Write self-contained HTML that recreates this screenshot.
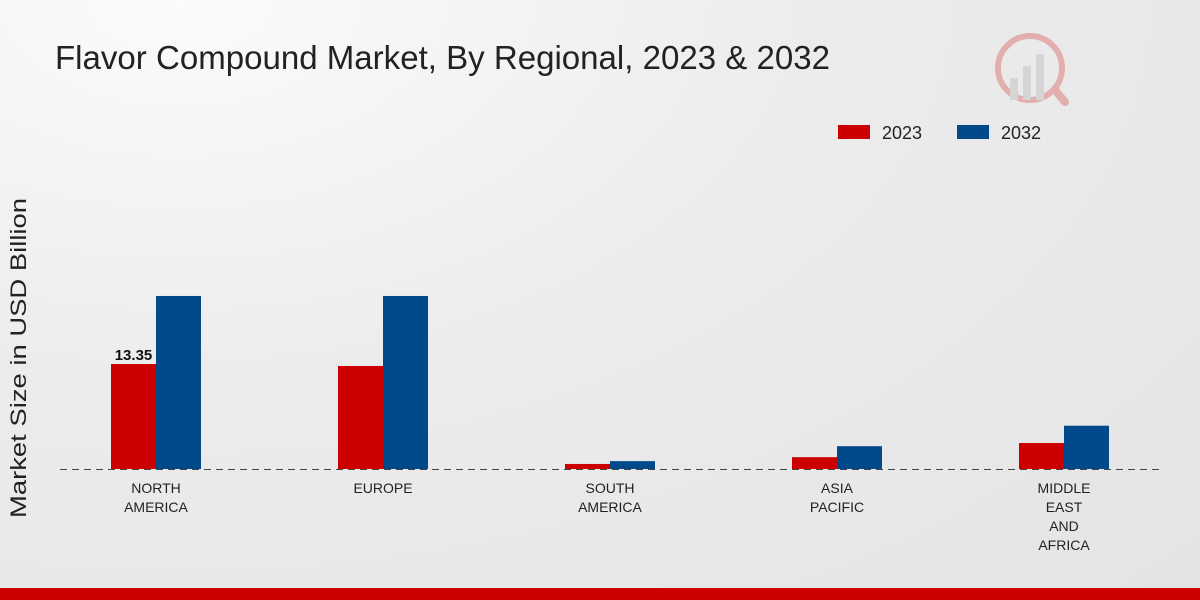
<!DOCTYPE html>
<html><head><meta charset="utf-8"><style>
html,body{margin:0;padding:0;width:1200px;height:600px;overflow:hidden}
body{background:radial-gradient(ellipse at 15% 0%,#fbfbfb 0%,#ececec 45%,#e4e4e4 100%);font-family:"Liberation Sans","DejaVu Sans",sans-serif}
</style></head><body>
<svg id="chart" width="1200" height="600" xmlns="http://www.w3.org/2000/svg">
<text x="55" y="69" font-size="33" fill="#222" textLength="775" lengthAdjust="spacingAndGlyphs">Flavor Compound Market, By Regional, 2023 &amp; 2032</text>
<g opacity="0.25">
<circle cx="1030" cy="68" r="32" fill="none" stroke="#c00" stroke-width="6"/>
<rect x="1010" y="78" width="8" height="22" fill="#999"/><rect x="1023" y="66" width="8" height="34" fill="#999"/><rect x="1036" y="54" width="8" height="46" fill="#999"/>
<line x1="1055" y1="90" x2="1065" y2="102" stroke="#c00" stroke-width="8" stroke-linecap="round"/>
</g>
<g>
<rect x="838" y="125" width="32" height="14" fill="#cc0000"/>
<text x="882" y="139" font-size="18" fill="#222">2023</text>
<rect x="957" y="125" width="32" height="14" fill="#004a8c"/>
<text x="1001" y="139" font-size="18" fill="#222">2032</text>
</g>
<text transform="translate(26,358) rotate(-90)" text-anchor="middle" font-size="22" fill="#222" textLength="320" lengthAdjust="spacingAndGlyphs">Market Size in USD Billion</text>
<line x1="60" y1="469.5" x2="1160" y2="469.5" stroke="#444" stroke-dasharray="7,5"/>
<g id="bars"></g>
</svg>
<div style="position:absolute;left:0;top:588px;width:1200px;height:12px;background:#cc0000"></div>
<script>
const categories=[["NORTH","AMERICA"],["EUROPE"],["SOUTH","AMERICA"],["ASIA","PACIFIC"],["MIDDLE","EAST","AND","AFRICA"]];
const values2023=[13.35,13.1,0.64,1.5,3.3];
const values2032=[22.0,22.0,1.0,2.9,5.5];
const valueLabels=["13.35","","","",""];
const NS="http://www.w3.org/2000/svg";
const g=document.getElementById('bars');
const baseY=469, scale=7.865, x0=156, step=227, bw=45;
const yPos=v=>baseY-v*scale;
function mk(t,a){const e=document.createElementNS(NS,t);for(const k in a)e.setAttribute(k,a[k]);return e;}
categories.forEach((c,i)=>{
 const cx=x0+i*step;
 const r1=mk('rect',{x:cx-bw,y:yPos(values2023[i]),width:bw,height:values2023[i]*scale,fill:'#cc0000'});
 
 
 g.appendChild(r1);
 const r2=mk('rect',{x:cx,y:yPos(values2032[i]),width:bw,height:values2032[i]*scale,fill:'#004a8c'});
 
 
 g.appendChild(r2);
 if(valueLabels[i]){
  const t=mk('text',{x:cx-bw/2,y:yPos(values2023[i])-4,'text-anchor':'middle','font-size':'15','font-weight':'bold',fill:'#111'});
  t.textContent=valueLabels[i];
  
  
  g.appendChild(t);
 }
 c.forEach((line,j)=>{
  const t=mk('text',{x:cx,y:493+j*19,'text-anchor':'middle','font-size':'14',fill:'#222'});
  t.textContent=line;
  
  
  g.appendChild(t);
 });
});
</script>
</body></html>
